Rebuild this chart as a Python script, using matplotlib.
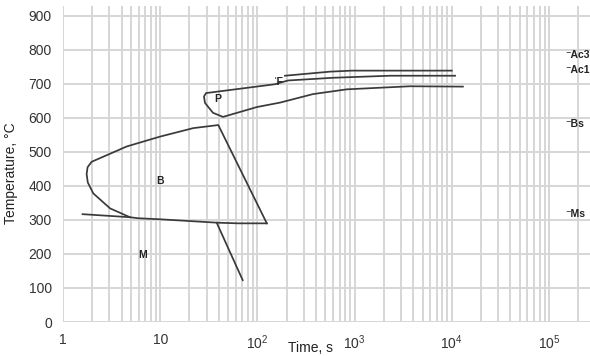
import matplotlib
matplotlib.use("Agg")
import matplotlib.pyplot as plt
from matplotlib.ticker import FixedLocator, FixedFormatter, LogLocator, NullFormatter

plt.rcParams['font.family'] = ['Liberation Sans', 'DejaVu Sans']
plt.rcParams['mathtext.default'] = 'regular'

# --- data (time in s, temperature in °C) ---
ac3_t = [192, 558, 940, 10000]
ac3_T = [724, 736, 739, 739]

ps_t = [10800, 2310, 600, 206, 152, 29.6, 28.2, 28.9, 34.9, 44.3, 99, 171, 373, 830, 3700, 13000]
ps_T = [724, 724, 718, 710, 699, 673, 663, 644, 615, 603, 632, 645, 670, 684, 693, 692]

bain_t = [4.89, 3.05, 2.05, 1.8, 1.75, 1.79, 1.97, 2.6, 4.52, 9.95, 21.9, 39.6, 125]
bain_T = [308, 334, 378, 410, 435, 455, 471, 486, 516, 545, 570, 579, 290]

ms_t = [1.59, 4.89, 5.95, 9.95, 38.1, 63.6, 125]
ms_T = [317, 308, 305, 302, 292, 290, 290]

mart_t = [38.1, 70.6]
mart_T = [292, 123]

region_labels = ["B", "M", "P", "\u02c8F"]
region_t = [10, 6.65, 39.3, 165]
region_T = [415, 197, 656, 707]

crit_labels = ["Ac3", "Ac1", "Bs", "Ms"]
crit_T = [785, 742, 582, 318]

yticks = [0, 100, 200, 300, 400, 500, 600, 700, 800, 900]
xticks = [1, 10, 100, 1000, 10000, 100000]
xticklabels = ["1", "10", "$10^2$", "$10^3$", "$10^4$", "$10^5$"]

fig = plt.figure(figsize=(5.90, 3.56), dpi=100)
ax = fig.add_axes([63/590, 34/356, 1 - 63/590, 316/356])
ax.set_xscale('log')
ax.set_xlim(1, 2.64e5)
ax.set_ylim(0, 929)

for s in ax.spines.values():
    s.set_visible(False)

ax.xaxis.set_major_locator(FixedLocator(xticks))
ax.xaxis.set_major_formatter(FixedFormatter(xticklabels))
ax.xaxis.set_minor_locator(LogLocator(base=10, subs=range(2, 10), numticks=20))
ax.xaxis.set_minor_formatter(NullFormatter())
ax.set_yticks(yticks)

gridc = '#d6d6d6'
ax.grid(True, which='major', axis='both', color=gridc, linewidth=1.4)
ax.grid(True, which='minor', axis='x', color=gridc, linewidth=1.4)
ax.set_axisbelow(True)
ax.tick_params(which='both', length=0, labelsize=10, colors='#333333', pad=8)

lc = '#3a3a3a'
lw = 1.25
ax.plot(ac3_t, ac3_T, color=lc, lw=lw)
ax.plot(ps_t, ps_T, color=lc, lw=lw)
ax.plot(bain_t, bain_T, color=lc, lw=lw)
ax.plot(ms_t, ms_T, color=lc, lw=lw)
ax.plot(mart_t, mart_T, color=lc, lw=lw)

for lab, t, T in zip(region_labels, region_t, region_T):
    ax.text(t, T, lab, fontsize=7.5, fontweight='bold', color='#222222',
            ha='center', va='center')

for lab, T in zip(crit_labels, crit_T):
    ax.text(1.46e5, T, "\u207b" + lab, fontsize=7.5, fontweight='bold', color='#222222',
            ha='left', va='center', clip_on=False)

ax.set_xlabel("Time, s", fontsize=10, color='#222222', labelpad=2)
ax.xaxis.set_label_coords((311 - 63) / 527, -0.06)
ax.set_ylabel("Temperature, °C", fontsize=10, color='#222222', labelpad=6)
ax.yaxis.set_label_coords(-0.085, 0.47)

fig.savefig("out.png", dpi=100)
